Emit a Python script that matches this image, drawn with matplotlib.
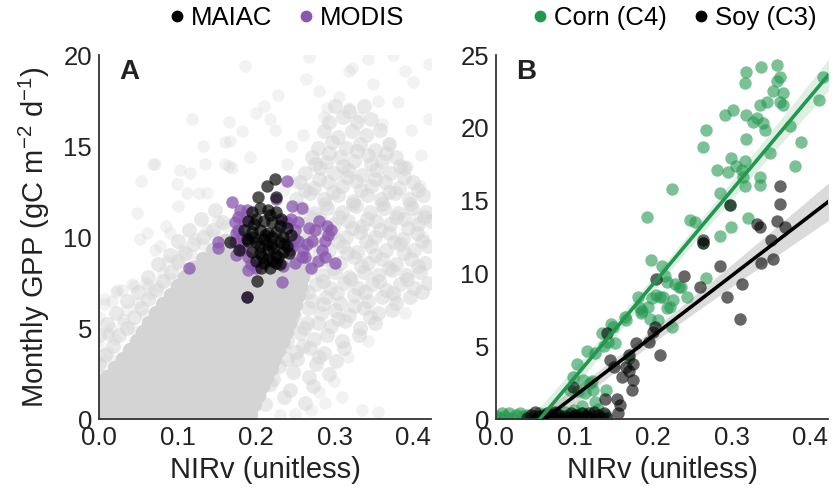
import numpy as np
import matplotlib
matplotlib.use("Agg")
import matplotlib.pyplot as plt
from matplotlib.lines import Line2D

plt.rcParams['font.family'] = ['Liberation Sans', 'DejaVu Sans']
plt.rcParams['mathtext.default'] = 'regular'

# ---------------- Panel A data ----------------
# dense core of all-site gray cloud: row y -> x values
gray_core_rows = {
    0.3: [0.000, 0.013, 0.026, 0.039, 0.052, 0.065, 0.078, 0.091, 0.104, 0.117, 0.130, 0.143, 0.156, 0.166, 0.179, 0.192],
    0.8: [0.006, 0.019, 0.032, 0.045, 0.058, 0.071, 0.084, 0.097, 0.110, 0.123, 0.136, 0.149, 0.162, 0.172, 0.185, 0.198],
    1.3: [0.000, 0.013, 0.026, 0.039, 0.052, 0.065, 0.078, 0.091, 0.104, 0.117, 0.130, 0.143, 0.156, 0.169, 0.177, 0.190, 0.203],
    1.8: [0.004, 0.017, 0.030, 0.043, 0.056, 0.069, 0.082, 0.095, 0.108, 0.121, 0.134, 0.147, 0.160, 0.173, 0.183, 0.196, 0.208],
    2.3: [0.010, 0.023, 0.036, 0.049, 0.062, 0.075, 0.088, 0.101, 0.114, 0.127, 0.140, 0.153, 0.166, 0.179, 0.188, 0.201, 0.213],
    2.8: [0.020, 0.032, 0.045, 0.058, 0.071, 0.084, 0.097, 0.110, 0.123, 0.136, 0.149, 0.162, 0.175, 0.188, 0.194, 0.207, 0.219],
    3.3: [0.030, 0.040, 0.053, 0.066, 0.079, 0.092, 0.105, 0.118, 0.131, 0.144, 0.157, 0.170, 0.183, 0.196, 0.199, 0.211, 0.223],
    3.8: [0.040, 0.050, 0.063, 0.076, 0.089, 0.102, 0.115, 0.128, 0.141, 0.154, 0.167, 0.180, 0.193, 0.203, 0.216, 0.228],
    4.3: [0.048, 0.058, 0.071, 0.084, 0.097, 0.110, 0.123, 0.136, 0.149, 0.162, 0.175, 0.188, 0.201, 0.208, 0.221, 0.233],
    4.8: [0.056, 0.066, 0.079, 0.092, 0.105, 0.118, 0.131, 0.144, 0.157, 0.170, 0.183, 0.196, 0.209, 0.212, 0.225, 0.238],
    5.3: [0.064, 0.074, 0.087, 0.100, 0.113, 0.126, 0.139, 0.152, 0.165, 0.178, 0.191, 0.204, 0.216, 0.229, 0.242],
    5.8: [0.073, 0.083, 0.096, 0.109, 0.122, 0.135, 0.148, 0.161, 0.174, 0.187, 0.200, 0.213, 0.221, 0.234, 0.246],
    6.3: [0.082, 0.092, 0.105, 0.118, 0.131, 0.144, 0.157, 0.170, 0.183, 0.196, 0.209, 0.222, 0.226, 0.239, 0.250],
    6.8: [0.092, 0.101, 0.114, 0.127, 0.140, 0.153, 0.166, 0.179, 0.192, 0.205, 0.218, 0.230, 0.243, 0.254],
    7.3: [0.100, 0.110, 0.123, 0.136, 0.149, 0.162, 0.175, 0.188, 0.201, 0.214, 0.227, 0.236, 0.248, 0.256],
    7.8: [0.110, 0.120, 0.133, 0.146, 0.159, 0.172, 0.185, 0.198, 0.211, 0.224, 0.240, 0.252, 0.258],
    8.3: [0.120, 0.130, 0.143, 0.156, 0.169, 0.182, 0.195, 0.208, 0.221, 0.234, 0.244, 0.256],
    8.8: [0.132, 0.142, 0.155, 0.168, 0.181, 0.194, 0.207, 0.220, 0.233, 0.240, 0.252],
    9.3: [0.145, 0.155, 0.168, 0.181, 0.194, 0.207, 0.220, 0.233, 0.245],
    9.8: [0.160, 0.170, 0.183, 0.196, 0.209, 0.223, 0.235],
}

# medium-density band of the gray cloud
gray_band = [
    (0.192, 1.1), (0.212, 0.8), (0.236, 1.2), (0.262, 0.9),
    (0.197, 1.6), (0.218, 1.9), (0.243, 1.6), (0.272, 1.8),
    (0.203, 2.5), (0.222, 2.2), (0.247, 2.6), (0.268, 2.3), (0.293, 2.5),
    (0.212, 3.2), (0.229, 2.9), (0.252, 3.3), (0.277, 3.0), (0.302, 3.2),
    (0.217, 3.7), (0.235, 4.0), (0.251, 3.7), (0.269, 3.9), (0.287, 3.6), (0.312, 3.9),
    (0.222, 4.6), (0.239, 4.3), (0.256, 4.7), (0.274, 4.4), (0.291, 4.6), (0.309, 4.3), (0.331, 4.6),
    (0.226, 5.1), (0.244, 5.4), (0.261, 5.0), (0.279, 5.3), (0.296, 5.1), (0.314, 5.4), (0.333, 5.0), (0.351, 5.3),
    (0.231, 6.0), (0.249, 5.7), (0.266, 6.1), (0.283, 5.8), (0.301, 6.0), (0.319, 5.7), (0.337, 6.1), (0.356, 5.8), (0.373, 6.0),
    (0.236, 6.5), (0.253, 6.8), (0.271, 6.5), (0.289, 6.7), (0.307, 6.4), (0.325, 6.8), (0.343, 6.5), (0.361, 6.7), (0.379, 6.4), (0.396, 6.7),
    (0.241, 7.4), (0.258, 7.1), (0.276, 7.4), (0.294, 7.2), (0.312, 7.5), (0.330, 7.2), (0.348, 7.4), (0.366, 7.1), (0.384, 7.4), (0.401, 7.2), (0.419, 7.5),
    (0.249, 7.9), (0.266, 8.2), (0.284, 7.9), (0.301, 8.1), (0.319, 7.8), (0.337, 8.1), (0.355, 7.9), (0.373, 8.2), (0.391, 7.9), (0.409, 8.1),
    (0.253, 8.8), (0.271, 8.5), (0.289, 8.8), (0.307, 8.6), (0.325, 8.9), (0.343, 8.6), (0.361, 8.8), (0.379, 8.5), (0.397, 8.8), (0.415, 8.6),
    (0.257, 9.3), (0.275, 9.6), (0.293, 9.3), (0.311, 9.5), (0.329, 9.2), (0.347, 9.5), (0.365, 9.3), (0.383, 9.6), (0.401, 9.3), (0.419, 9.5),
    (0.261, 10.2), (0.279, 9.9), (0.297, 10.2), (0.315, 10.0), (0.333, 10.3), (0.351, 10.0), (0.369, 10.2), (0.387, 9.9), (0.405, 10.2),
    (0.263, 10.7), (0.281, 11.0), (0.299, 10.7), (0.317, 10.9), (0.335, 10.6), (0.353, 10.9), (0.371, 10.7), (0.389, 11.0), (0.407, 10.7), (0.423, 10.9),
    (0.256, 11.6), (0.274, 11.3), (0.291, 11.6), (0.309, 11.4), (0.327, 11.7), (0.345, 11.4), (0.363, 11.6), (0.381, 11.3), (0.399, 11.6), (0.417, 11.4),
    (0.251, 12.1), (0.269, 12.4), (0.287, 12.1), (0.305, 12.3), (0.323, 12.0), (0.341, 12.3), (0.359, 12.1), (0.377, 12.4), (0.395, 12.1), (0.413, 12.3),
    (0.256, 13.0), (0.274, 12.7), (0.292, 13.0), (0.310, 12.8), (0.328, 13.1), (0.346, 12.8), (0.364, 13.0), (0.382, 12.7), (0.400, 13.0),
    (0.263, 13.5), (0.281, 13.8), (0.299, 13.5), (0.317, 13.7), (0.335, 13.4), (0.353, 13.7), (0.371, 13.5), (0.389, 13.8),
    (0.271, 14.4), (0.289, 14.1), (0.307, 14.4), (0.325, 14.2), (0.343, 14.5), (0.361, 14.2), (0.379, 14.4),
    (0.279, 14.9), (0.297, 15.2), (0.315, 14.9), (0.333, 15.1), (0.351, 14.8), (0.369, 15.1),
    (0.286, 15.8), (0.304, 15.5), (0.322, 15.8), (0.340, 15.6), (0.358, 15.9),
    (0.293, 16.3), (0.311, 16.6), (0.329, 16.3), (0.347, 16.5),
    (0.301, 17.2), (0.319, 16.9), (0.337, 17.2),
]

# extra band points filling the densest part of the band
gray_band2 = [
    (0.266, 7.0), (0.285, 7.6), (0.303, 6.9), (0.321, 7.7), (0.339, 7.0), (0.357, 7.6), (0.375, 6.9), (0.393, 7.7), (0.411, 7.0),
    (0.262, 8.4), (0.280, 9.0), (0.298, 8.3), (0.316, 9.1), (0.334, 8.4), (0.352, 9.0), (0.370, 8.3), (0.388, 9.1), (0.406, 8.4),
    (0.268, 9.9), (0.286, 10.5), (0.304, 9.8), (0.322, 10.5), (0.340, 9.8), (0.358, 10.4), (0.376, 9.7), (0.394, 10.5), (0.412, 9.8),
    (0.270, 11.1), (0.288, 11.8), (0.306, 11.1), (0.324, 11.8), (0.342, 11.0), (0.360, 11.8), (0.378, 11.1), (0.396, 11.8), (0.414, 11.1),
    (0.262, 12.6), (0.280, 13.2), (0.298, 12.5), (0.316, 13.3), (0.334, 12.6), (0.352, 13.2), (0.370, 12.5), (0.388, 13.3), (0.406, 12.6),
    (0.275, 14.0), (0.293, 14.6), (0.311, 13.9), (0.329, 14.7), (0.347, 14.0), (0.365, 14.6), (0.383, 13.9),
    (0.240, 3.3), (0.260, 4.0), (0.280, 3.4), (0.245, 5.8), (0.265, 5.3), (0.285, 6.3), (0.305, 5.5), (0.325, 6.2), (0.345, 5.6),
]

# fuzzy halo along the upper-left edge of the core
gray_halo = [
    (0.000, 3.0), (0.008, 3.5), (0.018, 4.0), (0.025, 4.6), (0.035, 5.0), (0.045, 5.6), (0.053, 6.1), (0.062, 6.6),
    (0.072, 7.1), (0.082, 7.6), (0.092, 8.1), (0.100, 8.7), (0.110, 9.1), (0.120, 9.6), (0.132, 10.0), (0.145, 10.4),
    (0.158, 10.8), (0.000, 4.6), (0.010, 5.2), (0.022, 5.8), (0.035, 6.5), (0.050, 7.0), (0.062, 7.8), (0.075, 8.5),
    (0.090, 9.0), (0.100, 9.8), (0.115, 10.4), (0.130, 11.0), (0.148, 11.5),
]

# sparse outlying gray points
gray_sparse = [
    (0.000, 2.5), (0.005, 3.2), (0.000, 4.0), (0.012, 3.7), (0.020, 4.4), (0.015, 5.0), (0.030, 5.3), (0.042, 5.0),
    (0.036, 6.0), (0.050, 6.4), (0.058, 5.7), (0.066, 6.9), (0.060, 7.5), (0.076, 7.3), (0.082, 8.1), (0.092, 7.7),
    (0.087, 8.7), (0.100, 8.5), (0.106, 9.3), (0.117, 9.0), (0.122, 9.9), (0.132, 9.6), (0.137, 10.4), (0.147, 10.1),
    (0.152, 10.9), (0.162, 10.6), (0.000, 5.6), (0.006, 6.3), (0.021, 7.0), (0.045, 7.3), (0.071, 9.3), (0.091, 10.2),
    (0.054, 13.1), (0.048, 11.3), (0.071, 14.0), (0.052, 9.9), (0.042, 7.4), (0.029, 7.1), (0.016, 6.5), (0.012, 4.7),
    (0.063, 7.3), (0.061, 10.2), (0.078, 9.5), (0.085, 10.6), (0.101, 11.7), (0.112, 12.4), (0.099, 12.9), (0.127, 12.4),
    (0.135, 14.0), (0.160, 14.0), (0.170, 13.8), (0.186, 19.4), (0.267, 19.9), (0.264, 18.7), (0.318, 19.1), (0.322, 19.3),
    (0.343, 19.8), (0.349, 18.4), (0.375, 20.0), (0.390, 19.1), (0.381, 17.4), (0.398, 15.9), (0.228, 17.8), (0.218, 16.5),
    (0.224, 15.9), (0.118, 16.5), (0.165, 16.3), (0.182, 15.8), (0.167, 15.3), (0.133, 15.0), (0.161, 15.2), (0.069, 14.0),
    (0.103, 13.7), (0.116, 13.5), (0.137, 12.4), (0.165, 13.9), (0.192, 14.4), (0.031, 5.5), (0.019, 3.2), (0.027, 2.6),
    (0.023, 7.1), (0.006, 6.6), (0.011, 4.6), (0.335, 0.5), (0.356, 0.4), (0.288, 0.9), (0.300, 2.1), (0.317, 3.4),
    (0.343, 4.3), (0.390, 5.8), (0.377, 6.7), (0.250, 0.3), (0.270, 0.5), (0.230, 0.2), (0.280, 1.5), (0.310, 1.2),
    (0.290, 17.1), (0.306, 17.7), (0.318, 17.1), (0.331, 16.6), (0.286, 16.6), (0.360, 16.2), (0.370, 15.1), (0.392, 13.9),
    (0.409, 12.8), (0.405, 11.1), (0.413, 10.0), (0.240, 14.0), (0.250, 13.0), (0.236, 12.6), (0.245, 15.0), (0.260, 15.6),
    (0.410, 14.5), (0.420, 16.5), (0.420, 19.5), (0.400, 18.5), (0.355, 17.5), (0.280, 18.0), (0.200, 16.8), (0.210, 17.2),
]

modis_x = [0.239, 0.169, 0.258, 0.246, 0.177, 0.177, 0.152, 0.152, 0.114, 0.233, 0.254, 0.267, 0.275, 0.296, 0.292,
           0.288, 0.284, 0.301, 0.279, 0.288, 0.262, 0.258, 0.250, 0.271, 0.246, 0.190, 0.182, 0.193, 0.233, 0.173,
           0.188, 0.226, 0.250, 0.243, 0.173, 0.182, 0.254, 0.180, 0.185, 0.182, 0.175, 0.175, 0.245, 0.250, 0.240,
           0.190, 0.200, 0.235, 0.260, 0.265, 0.280, 0.290, 0.270, 0.189]
modis_y = [13.1, 11.9, 11.6, 11.7, 11.1, 10.4, 9.75, 9.4, 8.3, 7.55, 10.8, 10.5, 10.4, 10.4, 10.1,
           9.8, 9.3, 8.6, 8.7, 8.9, 8.9, 8.9, 8.55, 9.8, 9.5, 8.9, 9.3, 8.5, 10.9, 10.8,
           11.5, 12.1, 10.4, 9.3, 9.7, 9.5, 9.8, 11.5, 10.9, 10.0, 10.2, 9.0, 11.0, 9.9, 10.8,
           8.2, 8.3, 8.4, 9.3, 9.6, 10.9, 10.6, 8.3, 6.7]

maiac_x = [0.224, 0.214, 0.203, 0.226, 0.167, 0.201, 0.189,
           0.195, 0.205, 0.215, 0.225, 0.232, 0.190, 0.200, 0.210, 0.220, 0.230, 0.240,
           0.185, 0.195, 0.205, 0.215, 0.225, 0.235, 0.245, 0.190, 0.200, 0.210, 0.220, 0.230, 0.240,
           0.178, 0.195, 0.205, 0.215, 0.225, 0.235, 0.200, 0.210, 0.220, 0.230, 0.215, 0.225, 0.208,
           0.196, 0.212, 0.222, 0.205, 0.218, 0.198, 0.228, 0.236, 0.242, 0.188, 0.214, 0.220, 0.207, 0.218]
maiac_y = [13.2, 12.8, 12.2, 12.2, 9.75, 7.6, 6.7,
           11.4, 11.6, 11.5, 11.4, 11.0, 10.9, 11.0, 10.9, 10.8, 10.6, 10.5,
           10.4, 10.3, 10.4, 10.2, 10.3, 10.0, 10.1, 9.8, 9.7, 9.9, 9.6, 9.7, 9.5,
           9.3, 9.2, 9.1, 9.3, 9.0, 9.2, 8.7, 8.6, 8.7, 8.5, 8.8, 8.6, 8.9,
           10.0, 10.1, 9.4, 9.5, 11.2, 10.7, 8.9, 9.6, 9.1, 9.9, 9.6, 10.0, 8.3, 8.3]

# ---------------- Panel B data ----------------
corn_x = [0.319, 0.317, 0.338, 0.358, 0.362, 0.358, 0.353, 0.366, 0.362, 0.366, 0.345, 0.336, 0.292, 0.302, 0.319,
          0.332, 0.328, 0.340, 0.343, 0.375, 0.411, 0.417, 0.268, 0.264, 0.319, 0.389, 0.349, 0.300, 0.317, 0.313,
          0.306, 0.296, 0.281, 0.315, 0.336, 0.336, 0.317, 0.381, 0.285, 0.298, 0.321, 0.300, 0.285, 0.264, 0.247,
          0.253, 0.224, 0.192, 0.198, 0.211, 0.215, 0.228, 0.236, 0.209, 0.213, 0.204, 0.243, 0.181, 0.194, 0.183,
          0.222, 0.224, 0.164, 0.166, 0.147, 0.135, 0.116, 0.137, 0.103, 0.098, 0.111, 0.094, 0.120, 0.124, 0.105,
          0.170, 0.143, 0.207, 0.268, 0.185, 0.218, 0.233, 0.199, 0.225, 0.218, 0.186, 0.196, 0.149, 0.152, 0.126,
          0.122, 0.113, 0.126, 0.110, 0.130, 0.140,
          0.000, 0.008, 0.016, 0.025, 0.035, 0.045, 0.060, 0.075, 0.088, 0.100, 0.140, 0.120,
          0.005, 0.012, 0.020, 0.030, 0.040, 0.050, 0.055, 0.068, 0.080, 0.095, 0.108, 0.115, 0.130]
corn_y = [23.85, 23.05, 24.2, 24.3, 23.5, 23.2, 22.5, 22.4, 21.8, 21.6, 21.8, 21.6, 20.9, 21.2, 20.9,
          20.65, 20.4, 20.3, 19.85, 20.1, 21.9, 23.5, 19.85, 18.7, 19.2, 19.0, 18.25, 17.9, 17.7, 17.1,
          17.35, 17.0, 17.1, 16.6, 16.6, 16.1, 16.0, 17.4, 15.5, 14.7, 13.8, 13.2, 12.6, 12.1, 13.7,
          13.5, 15.8, 13.9, 10.9, 10.5, 9.8, 9.3, 9.1, 8.4, 8.4, 8.5, 8.4, 8.4, 7.7, 7.6,
          7.7, 6.3, 7.0, 6.8, 6.5, 5.9, 4.7, 5.0, 3.8, 2.9, 2.7, 2.0, 2.45, 2.0, 1.9,
          4.2, 5.3, 6.8, 9.7, 7.3, 9.4, 9.1, 8.3, 8.2, 7.6, 7.4, 6.9, 6.3, 5.2, 4.5,
          2.6, 1.8, 1.2, 0.9, 0.7, 2.0,
          0.2, 0.4, 0.4, 0.3, 0.2, 0.1, 0.3, 0.4, 0.5, 0.6, 0.3, 0.2,
          0.1, 0.2, 0.1, 0.4, 0.3, 0.2, 0.4, 0.2, 0.1, 0.3, 0.4, 0.2, 0.3]

soy_x = [0.362, 0.362, 0.298, 0.332, 0.336, 0.358, 0.368, 0.264, 0.264, 0.285, 0.351, 0.353, 0.338, 0.313, 0.294,
         0.311, 0.260, 0.239, 0.204, 0.202, 0.209, 0.179, 0.175, 0.145, 0.141, 0.166, 0.170, 0.160, 0.175, 0.173,
         0.139, 0.154, 0.158, 0.156, 0.098, 0.200, 0.195, 0.170, 0.150,
         0.040, 0.050, 0.060, 0.070, 0.080, 0.090, 0.100, 0.110, 0.120, 0.130, 0.135, 0.125, 0.065, 0.085, 0.105, 0.115,
         0.045, 0.055, 0.062, 0.072, 0.078, 0.088, 0.095, 0.102, 0.108, 0.118, 0.128, 0.138, 0.142, 0.050, 0.075, 0.098]
soy_y = [16.0, 14.8, 14.7, 13.4, 13.2, 13.6, 13.2, 12.3, 12.1, 10.5, 12.3, 11.0, 10.7, 9.3, 8.4,
         6.9, 9.1, 9.8, 9.6, 6.3, 4.4, 5.2, 3.8, 4.05, 5.9, 3.6, 3.3, 2.9, 2.7, 2.0,
         1.4, 1.4, 0.96, 0.4, 2.2, 6.0, 5.3, 4.4, 3.6,
         0.1, 0.0, 0.2, 0.1, 0.3, 0.1, 0.2, 0.4, 0.1, 0.3, 0.1, 0.5, 0.4, 0.0, 0.0, 0.2,
         0.3, 0.2, 0.0, 0.3, 0.0, 0.2, 0.4, 0.3, 0.1, 0.4, 0.0, 0.4, 0.1, 0.5, 0.5, 0.0]

# fitted regression lines: (slope, intercept)
corn_fit = (64.3, -3.6)
soy_fit = (41.3, -2.56)

x_ticks = [0.0, 0.1, 0.2, 0.3, 0.4]
x_tick_labels = ['0.0', '0.1', '0.2', '0.3', '0.4']
yA_ticks = [0, 5, 10, 15, 20]
yB_ticks = [0, 5, 10, 15, 20, 25]

# ---------------- styling ----------------
GRAY = '#d4d4d4'
PURPLE = '#8a56b0'
GREEN = '#22984f'
BLACK = '#000000'
MS = 80  # marker size (pt^2)

fig = plt.figure(figsize=(8.35, 4.98), dpi=100)
axA = fig.add_axes([0.1186, 0.1586, 0.3976, 0.7309])
axB = fig.add_axes([0.5940, 0.1586, 0.3976, 0.7309])

core_x = [x for yv, xs in gray_core_rows.items() for x in xs]
core_y = [yv for yv, xs in gray_core_rows.items() for x in xs]
band_x, band_y = zip(*(gray_band + gray_band2 + gray_halo))
sp_x, sp_y = zip(*gray_sparse)

axA.scatter(sp_x, sp_y, s=MS, color=GRAY, alpha=0.3, linewidths=0, zorder=1)
axA.scatter(band_x, band_y, s=115, color=GRAY, alpha=0.5, linewidths=0, zorder=1)
axA.scatter(core_x, core_y, s=125, color=GRAY, alpha=1.0, linewidths=0, zorder=1)
axA.scatter(modis_x, modis_y, s=MS, color=PURPLE, alpha=0.75, linewidths=0, zorder=2)
axA.scatter(maiac_x, maiac_y, s=MS, color=BLACK, alpha=0.68, linewidths=0, zorder=3)


def fit_ci(ax, x, y, fit, color, band_color, band_alpha):
    x = np.asarray(x)
    y = np.asarray(y)
    b, a = fit
    xx = np.linspace(0, 0.425, 200)
    yy = a + b * xx
    n = len(x)
    resid = y - (a + b * x)
    s = np.sqrt(np.sum(resid ** 2) / (n - 2))
    sxx = np.sum((x - x.mean()) ** 2)
    se = s * np.sqrt(1.0 / n + (xx - x.mean()) ** 2 / sxx)
    ax.fill_between(xx, yy - 1.98 * se, yy + 1.98 * se, color=band_color, alpha=band_alpha,
                    linewidth=0, zorder=1)
    ax.plot(xx, yy, color=color, lw=2.6, zorder=4)


axB.scatter(corn_x, corn_y, s=MS, color=GREEN, alpha=0.6, linewidths=0, zorder=2)
axB.scatter(soy_x, soy_y, s=MS, color=BLACK, alpha=0.6, linewidths=0, zorder=2)
fit_ci(axB, corn_x, corn_y, corn_fit, GREEN, GREEN, 0.15)
fit_ci(axB, soy_x, soy_y, soy_fit, BLACK, '#888888', 0.3)

for ax, yt, ymax in ((axA, yA_ticks, 20), (axB, yB_ticks, 25)):
    ax.set_xlim(0, 0.423)
    ax.set_ylim(0, ymax)
    ax.set_xticks(x_ticks)
    ax.set_xticklabels(x_tick_labels)
    ax.set_yticks(yt)
    ax.tick_params(axis='both', length=0, labelsize=18.5, pad=5, colors='#222222')
    for side in ('top', 'right'):
        ax.spines[side].set_visible(False)
    for side in ('left', 'bottom'):
        ax.spines[side].set_color('#333333')
        ax.spines[side].set_linewidth(1.3)
    ax.set_xlabel('NIRv (unitless)', fontsize=21, color='#222222', labelpad=4)

axA.set_ylabel('Monthly GPP (gC m$^{-2}$ d$^{-1}$)', fontsize=21, color='#222222', labelpad=8)

axA.text(0.06, 0.99, 'A', transform=axA.transAxes, fontsize=20, fontweight='bold',
         va='top', ha='left', color='#222222')
axB.text(0.06, 0.99, 'B', transform=axB.transAxes, fontsize=20, fontweight='bold',
         va='top', ha='left', color='#222222')


def dot(c):
    return Line2D([0], [0], marker='o', linestyle='none', markersize=8.5,
                  markerfacecolor=c, markeredgecolor='none')


fig.legend([dot(BLACK), dot(PURPLE)], ['MAIAC', 'MODIS'], loc='center',
           bbox_to_anchor=(284 / 835, 1 - 18 / 498), ncol=2, frameon=False,
           fontsize=18.5, handletextpad=0.05, columnspacing=0.8, handlelength=1.0,
           borderaxespad=0, borderpad=0)
fig.legend([dot(GREEN), dot(BLACK)], ['Corn (C4)', 'Soy (C3)'], loc='center',
           bbox_to_anchor=(672 / 835, 1 - 18 / 498), ncol=2, frameon=False,
           fontsize=18.5, handletextpad=0.05, columnspacing=0.8, handlelength=1.0,
           borderaxespad=0, borderpad=0)

fig.savefig('out.png', dpi=100)
